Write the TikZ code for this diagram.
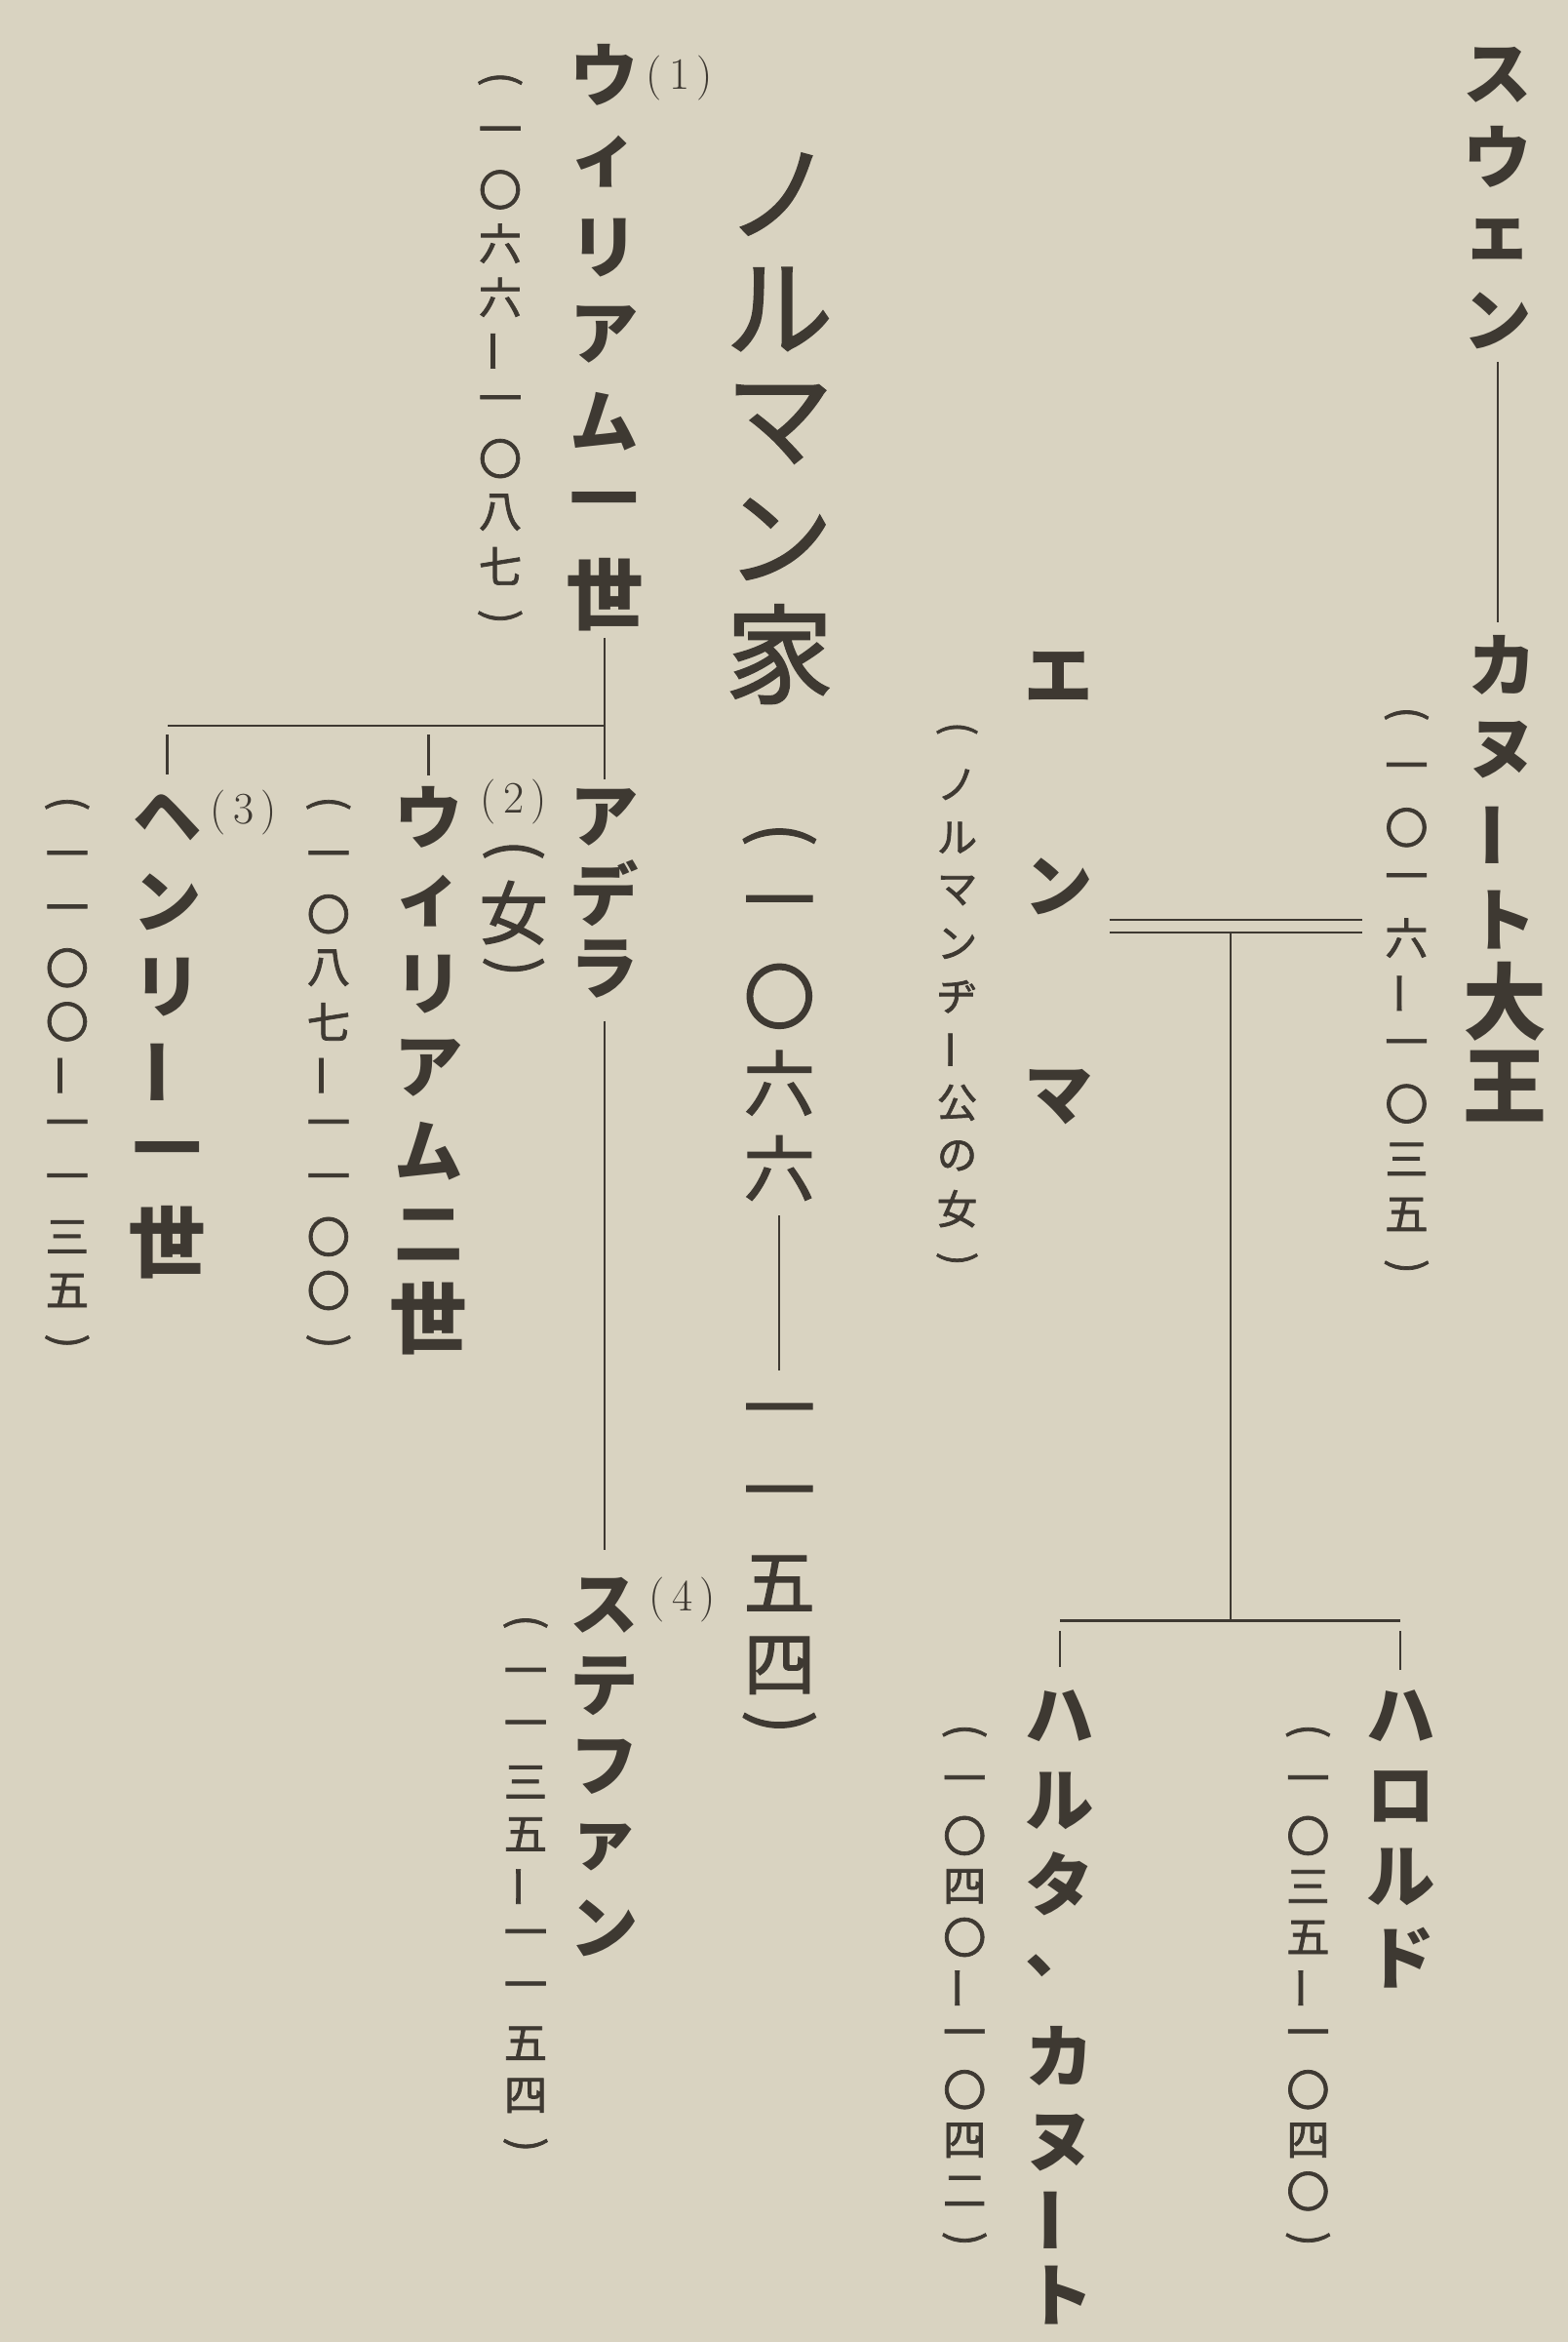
\documentclass[tikz,border=0pt]{standalone}
\usepackage{fontspec}
\newfontfamily\jp{Noto Sans CJK JP}
\newfontfamily\jpm[FakeBold=1.6]{Noto Sans CJK JP}
\usetikzlibrary{calc}
\definecolor{paper}{RGB}{217,211,193}
\definecolor{ink}{RGB}{62,57,50}
\newlength\vp
\newcommand\vcell[1]{\hbox to 0pt{\hss\vbox to \vp{\vss\hbox{#1}\vss}\hss}}
\newcommand\vtxt[2]{\vbox{\offinterlineskip\setlength\vp{#1pt}\foreach \cc in {#2}{\vcell{\cc}}}}
\newcommand\vtxtp[1]{\vbox{\offinterlineskip\foreach \cc/\pp in {#1}{\setlength\vp{\pp pt}\vcell{\cc}}}}
\newcommand\vb{\rotatebox[origin=c]{90}{ー}}
\newcommand\po{\rotatebox[origin=c]{-90}{(}}
\newcommand\pc{\rotatebox[origin=c]{-90}{)}}
\newcommand\numlab[1]{(\kern5pt#1\kern5pt)}
\tikzset{
  vt/.style={inner sep=0pt, outer sep=0pt, anchor=north, text=ink},
  nm/.style={vt, font=\jp\bfseries\fontsize{46}{46}\selectfont},
  dt/.style={vt, font=\jpm\fontsize{29}{29}\selectfont},
  ln/.style={draw=ink, line width=1.5pt},
  num/.style={inner sep=0pt, text=ink, font=\fontsize{30}{30}\selectfont},
}
\begin{document}
\begin{tikzpicture}[x=1pt,y=-1pt]
\path[fill=paper] (0,0) rectangle (1050,1568);
\useasboundingbox (0,0) rectangle (1050,1568);

% Danish line
\node[nm] (swen) at (1003,22.5) {\vtxt{55}{ス,ウ,ェ,ン}};
\node[nm] (canute) at (1006,416.5) {\vtxt{57}{カ,ヌ,\vb,ト}};
\node[nm, font=\jp\bfseries\fontsize{56}{56}\selectfont] (daio) at (1008,642) {\vtxt{57}{大,王}};
\node[dt] (canuted) at (942,461.5) {\vtxt{37}{\po,一,〇,一,六,\vb,一,〇,三,五,\pc}};
\node[nm] (emma) at (709,382) {\vtxt{141}{エ,ン,マ}};
\node[dt, font=\jpm\fontsize{27}{27}\selectfont] (emmad) at (641,472) {\vtxt{35.5}{\po,ノ,ル,マ,ン,ヂ,\vb,公,の,女,\pc}};
\node[nm] (harold) at (938,1122) {\vtxt{54}{ハ,ロ,ル,ド}};
\node[dt] (haroldd) at (876,1144) {\vtxt{34}{\po,一,〇,三,五,\vb,一,〇,四,〇,\pc}};
\node[nm] (harth) at (710,1120) {\vtxtp{ハ/57,ル/58,タ/52,、/58,カ/63,ヌ/53,\vb/51,ト/50}};
\node[dt] (harthd) at (646,1144) {\vtxt{34}{\po,一,〇,四,〇,\vb,一,〇,四,二,\pc}};

\draw[ln] (swen.south) -- (swen.south |- canute.north);
\coordinate (mL) at (743,620);
\coordinate (mR) at (912,620);
\draw[ln, double=paper, double distance=7pt] (mL) -- (mR);
\coordinate (cTop) at (824,625);
\coordinate (cBar) at (824,1085);
\draw[ln] (cTop) -- (cBar);
\draw[ln] (harth.north |- cBar) -- (harold.north |- cBar);
\draw[ln] ($(harold.north |- cBar)+(0,7)$) -- ($(harold.north)+(0,-4)$);
\draw[ln] ($(harth.north |- cBar)+(0,7)$) -- ($(harth.north)+(0,-4)$);

% Norman house heading
\node[vt, font=\jpm\fontsize{72}{72}\selectfont] (house) at (522,91.5) {\vtxt{77}{ノ,ル,マ,ン,家}};
\node[vt, font=\jpm\fontsize{48}{48}\selectfont] (hdA) at (522,542) {\vtxtp{\po/40,一/56,〇/58,六/58,六/56}};
\node[vt, font=\jpm\fontsize{48}{48}\selectfont] (hdB) at (522,922.5) {\vtxtp{一/55,一/55,五/55,四/55,\pc/28}};
\draw[ln] ($(hdA.south)+(0,4)$) -- ($(hdB.north)+(0,-5)$);

% Norman line
\node[num] (n1) at (455,52) {\numlab{1}};
\node[nm] (w1) at (405,21) {\vtxt{58}{ウ,ィ,リ,ア,ム,一,{\fontsize{52}{52}\selectfont 世}}};
\node[dt] (w1d) at (335,37) {\vtxt{36}{\po,一,〇,六,六,\vb,一,〇,八,七,\pc}};
\node[nm] (adela) at (405,521.5) {\vtxt{51}{ア,デ,ラ}};
\node[num] (n2) at (344,537) {\numlab{2}};
\node[vt, font=\jpm\fontsize{40}{40}\selectfont] (onna) at (344,555) {\vtxtp{\po/34,{\fontsize{46}{46}\selectfont 女}/44,\pc/34}};
\node[nm] (w2) at (287,519) {\vtxt{56}{ウ,ィ,リ,ア,ム,二,{\fontsize{52}{52}\selectfont 世}}};
\node[dt] (w2d) at (220,522) {\vtxt{36}{\po,一,〇,八,七,\vb,一,一,〇,〇,\pc}};
\node[num] (n3) at (163,544) {\numlab{3}};
\node[nm] (henry) at (112,518.5) {\vtxt{57}{ヘ,ン,リ,\vb,一,{\fontsize{52}{52}\selectfont 世}}};
\node[dt] (henryd) at (45,522) {\vtxt{36}{\po,一,一,〇,〇,\vb,一,一,三,五,\pc}};
\node[nm] (steph) at (405,1048) {\vtxt{54}{ス,テ,フ,ァ,ン}};
\node[num] (n4) at (457,1071) {\numlab{4}};
\node[dt] (stephd) at (352,1070.5) {\vtxt{35}{\po,一,一,三,五,\vb,一,一,五,四,\pc}};

\coordinate (wbar) at (405,486);
\draw[ln] (w1.south) -- (adela.north);
\draw[ln] (w1.south |- wbar) -- (henry.north |- wbar);
\draw[ln] ($(w2.north |- wbar)+(0,6)$) -- (w2.north);
\draw[ln] ($(henry.north |- wbar)+(0,6)$) -- (henry.north);
\draw[ln] ($(adela.south)+(0,9)$) -- ($(steph.north)+(0,-10)$);
\end{tikzpicture}
\end{document}
